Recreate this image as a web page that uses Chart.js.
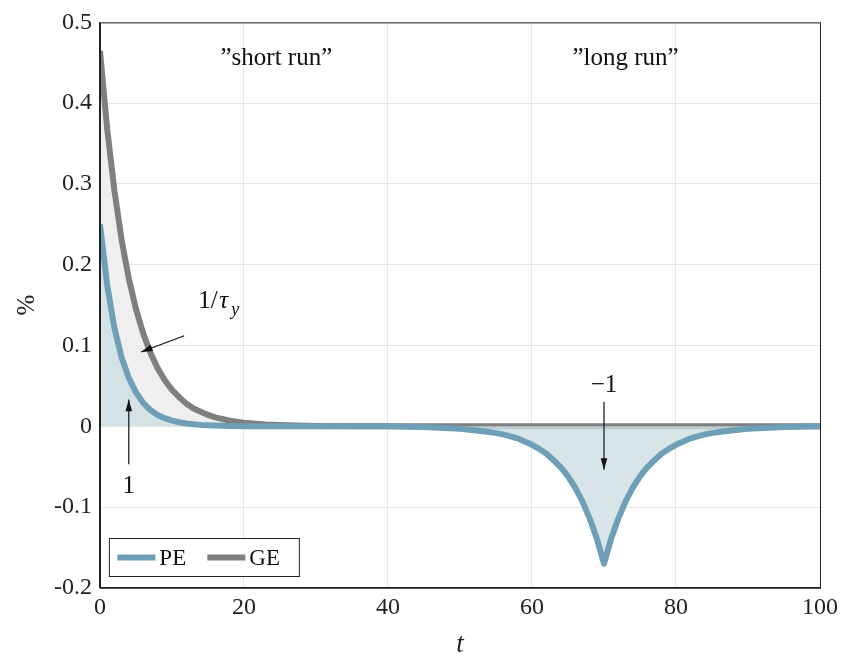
<!DOCTYPE html>
<html lang="en">
<head>
  <meta charset="UTF-8" />
  <title>PE vs GE</title>
  <script src="https://cdn.jsdelivr.net/npm/chart.js"></script>
  <style>
    body { margin: 0; background: #fff; }
  </style>
</head>
<body>
  <canvas id="c" width="844" height="661"></canvas>
  <script>
    // time grid shared by both series
    const tGrid = [0,1,2,3,4,5,6,7,8,9,10,11,12,13,14,15,16,17,18,19,20,23,26,30,35,40,45,50,52,54,56,58,
                   60,61,62,63,64,65,66,67,68,69,70,71,72,73,74,75,76,77,78,79,80,82,84,86,88,90,95,100];
    const pe = [0.25,0.175,0.122,0.085,0.060,0.042,0.029,0.020,0.014,0.010,0.007,0.005,0.0035,0.0025,0.0017,0.0012,0.0008,0.0005,0.0003,0.0002,0.0001,0,0,0,0,0,-0.001,-0.003,-0.005,-0.007,-0.010,-0.015,
                -0.023,-0.028,-0.034,-0.042,-0.051,-0.062,-0.076,-0.093,-0.114,-0.139,-0.170,-0.139,-0.114,-0.093,-0.076,-0.062,-0.051,-0.042,-0.034,-0.028,-0.023,-0.015,-0.010,-0.007,-0.005,-0.003,-0.001,0];
    const ge = [0.465,0.368,0.292,0.231,0.183,0.145,0.115,0.091,0.072,0.057,0.045,0.036,0.028,0.022,0.018,0.014,0.011,0.009,0.007,0.0055,0.0044,0.0022,0.0011,0.0004,0.0001,0,0,0,0,0,0,0,
                0,0,0,0,0,0,0,0,0,0,0,0,0,0,0,0,0,0,0,0,0,0,0,0,0,0,0,0];
    const xTicks = [0,20,40,60,80,100];
    const yTicks = [-0.2,-0.1,0,0.1,0.2,0.3,0.4,0.5];

    const peColor = '#6f9fb6';
    const geColor = '#7f7f7f';
    const serif = "'Liberation Serif', 'DejaVu Serif', serif";

    function arrow(ctx, x1, y1, x2, y2) {
      const a = Math.atan2(y2 - y1, x2 - x1);
      ctx.beginPath();
      ctx.moveTo(x1, y1); ctx.lineTo(x2, y2); ctx.stroke();
      ctx.beginPath();
      ctx.moveTo(x2, y2);
      ctx.lineTo(x2 - 12 * Math.cos(a - 0.28), y2 - 12 * Math.sin(a - 0.28));
      ctx.lineTo(x2 - 12 * Math.cos(a + 0.28), y2 - 12 * Math.sin(a + 0.28));
      ctx.closePath(); ctx.fill();
    }

    const notes = {
      id: 'notes',
      afterDraw(chart) {
        const ctx = chart.ctx;
        const xs = chart.scales.x, ys = chart.scales.y;
        const a = chart.chartArea;
        ctx.save();
        ctx.strokeStyle = '#222'; ctx.lineWidth = 1;
        ctx.strokeRect(a.left + 0.5, a.top + 0.5, a.right - a.left, a.bottom - a.top);
        ctx.fillStyle = '#111'; ctx.strokeStyle = '#111'; ctx.lineWidth = 1.2;
        ctx.font = '25px ' + serif;
        ctx.textAlign = 'center'; ctx.textBaseline = 'middle';
        ctx.fillText('\u201dshort run\u201d', xs.getPixelForValue(24.5), ys.getPixelForValue(0.455));
        ctx.fillText('\u201dlong run\u201d', xs.getPixelForValue(73), ys.getPixelForValue(0.455));
        ctx.fillText('1', xs.getPixelForValue(4), ys.getPixelForValue(-0.075));
        ctx.fillText('\u22121', xs.getPixelForValue(70), ys.getPixelForValue(0.051));
        ctx.fillText('1/', xs.getPixelForValue(15.0), ys.getPixelForValue(0.155));
        ctx.font = 'italic 25px ' + serif;
        ctx.fillText('\u03c4', xs.getPixelForValue(17.2), ys.getPixelForValue(0.155));
        ctx.font = 'italic 18px ' + serif;
        ctx.fillText('y', xs.getPixelForValue(18.8), ys.getPixelForValue(0.143));
        arrow(ctx, xs.getPixelForValue(4), ys.getPixelForValue(-0.047), xs.getPixelForValue(4), ys.getPixelForValue(0.033));
        arrow(ctx, xs.getPixelForValue(70), ys.getPixelForValue(0.03), xs.getPixelForValue(70), ys.getPixelForValue(-0.054));
        arrow(ctx, xs.getPixelForValue(11.7), ys.getPixelForValue(0.112), xs.getPixelForValue(5.7), ys.getPixelForValue(0.092));
        // legend box
        const lx = xs.getPixelForValue(1.3), ly = ys.getPixelForValue(-0.139);
        ctx.fillStyle = '#fff'; ctx.strokeStyle = '#222'; ctx.lineWidth = 1;
        ctx.fillRect(lx, ly, 190, 38); ctx.strokeRect(lx, ly, 190, 38);
        ctx.lineWidth = 6;
        ctx.strokeStyle = peColor;
        ctx.beginPath(); ctx.moveTo(lx + 8, ly + 19); ctx.lineTo(lx + 46, ly + 19); ctx.stroke();
        ctx.strokeStyle = geColor;
        ctx.beginPath(); ctx.moveTo(lx + 98, ly + 19); ctx.lineTo(lx + 136, ly + 19); ctx.stroke();
        ctx.fillStyle = '#111'; ctx.font = '23px ' + serif; ctx.textAlign = 'left';
        ctx.fillText('PE', lx + 50, ly + 20);
        ctx.fillText('GE', lx + 140, ly + 20);
        ctx.restore();
      }
    };

    new Chart(document.getElementById('c'), {
      type: 'line',
      data: {
        labels: tGrid,
        datasets: [
          {
            label: 'PE',
            data: tGrid.map((t, i) => ({ x: t, y: pe[i] })),
            borderColor: peColor, borderWidth: 6, borderJoinStyle: 'round',
            backgroundColor: 'rgba(205,222,228,0.8)',
            fill: 'origin', pointRadius: 0, tension: 0
          },
          {
            label: 'GE',
            data: tGrid.map((t, i) => ({ x: t, y: ge[i] })),
            borderColor: geColor, borderWidth: 6, borderJoinStyle: 'round',
            backgroundColor: '#efefef',
            fill: 'origin', pointRadius: 0, tension: 0
          }
        ]
      },
      options: {
        responsive: false, animation: false,
        layout: { padding: { top: 16, right: 22, left: 8, bottom: 0 } },
        plugins: { legend: { display: false }, tooltip: { enabled: false } },
        scales: {
          x: {
            type: 'linear', min: 0, max: 100,
            afterBuildTicks: s => { s.ticks = xTicks.map(v => ({ value: v })); },
            grid: { color: '#e6e6e6', drawTicks: false },
            border: { color: '#222' },
            ticks: { color: '#222', font: { family: serif, size: 24 }, padding: 6, maxRotation: 0 },
            title: { display: true, text: 't', color: '#222', font: { family: serif, size: 27, style: 'italic' }, padding: 0 }
          },
          y: {
            min: -0.2, max: 0.5,
            afterBuildTicks: s => { s.ticks = yTicks.map(v => ({ value: v })); },
            grid: { color: '#e6e6e6', drawTicks: false },
            border: { color: '#222' },
            ticks: { color: '#222', font: { family: serif, size: 24 }, padding: 8,
                     callback: v => String(Math.round(v * 10) / 10) },
            title: { display: true, text: '%', color: '#222', font: { family: serif, size: 25 }, padding: 4 }
          }
        }
      },
      plugins: [notes]
    });
  </script>
</body>
</html>
